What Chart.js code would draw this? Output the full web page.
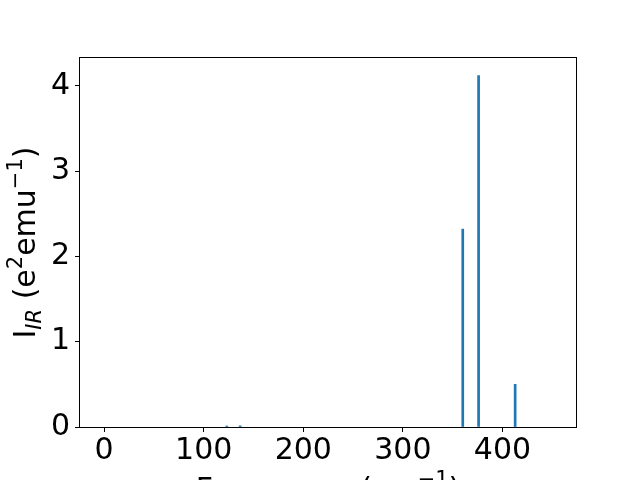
<!DOCTYPE html>
<html>
<head>
<meta charset="utf-8">
<script src="https://cdn.jsdelivr.net/npm/chart.js@4/dist/chart.umd.min.js"></script>
<style>
  html, body { margin: 0; padding: 0; background: #fff; }
  #wrap { width: 640px; height: 480px; position: relative; }
</style>
</head>
<body>
<div id="wrap"><canvas id="c" width="640" height="480"></canvas></div>
<script>
// ---- data ----
const frequencies = [123.2, 136.6, 360.1, 376.0, 412.7];
const intensities = [0.012, 0.014, 2.32, 4.12, 0.50];
const xTickValues = [0, 100, 200, 300, 400];
const yTickValues = [0, 1, 2, 3, 4];
const xLimits = [-24.2, 473.8];
const yLimits = [0, 4.326];

const FONT = "DejaVu Sans";
const BASE = 30;

function drawRich(ctx, segs, cx, baseY) {
  // segs: [text, size, style, shift]
  let total = 0;
  const widths = segs.map(s => {
    ctx.font = (s[2] || '') + ' ' + s[1] + 'px "' + FONT + '"';
    const w = ctx.measureText(s[0]).width;
    total += w;
    return w;
  });
  let x = cx - total / 2;
  ctx.textAlign = 'left';
  ctx.textBaseline = 'alphabetic';
  ctx.fillStyle = '#000';
  segs.forEach((s, i) => {
    ctx.font = (s[2] || '') + ' ' + s[1] + 'px "' + FONT + '"';
    ctx.fillText(s[0], x, baseY + (s[3] || 0));
    x += widths[i];
  });
}

const framePlugin = {
  id: 'frame',
  afterDraw(chart) {
    const ctx = chart.ctx;
    const a = chart.chartArea;
    ctx.save();
    ctx.strokeStyle = '#000';
    ctx.lineWidth = 1;
    ctx.strokeRect(Math.round(a.left) - 0.5, Math.round(a.top) - 0.5,
                   Math.round(a.right - a.left) + 1, Math.round(a.bottom - a.top) + 1);
    // y title (rotated)
    ctx.save();
    ctx.translate(34.5, (a.top + a.bottom) / 2);
    ctx.rotate(-Math.PI / 2);
    drawRich(ctx, [
      ['I', BASE, '', 0],
      ['IR', 21, 'italic', 6],
      [' (e', BASE, '', 0],
      ['2', 21, '', -13],
      ['emu', BASE, '', 0],
      ['\u22121', 21, '', -13],
      [')', BASE, '', 0]
    ], 0, 0);
    ctx.restore();
    // x title (partly cut off at bottom)
    drawRich(ctx, [
      ['Frequency (cm', BASE, '', 0],
      ['\u22121', 21, '', -13],
      [')', BASE, '', 0]
    ], (a.left + a.right) / 2, 499);
    ctx.restore();
  }
};

Chart.defaults.font.family = FONT;
Chart.defaults.color = '#000';

new Chart(document.getElementById('c'), {
  type: 'bar',
  data: {
    datasets: [{
      data: frequencies.map((f, i) => ({ x: f, y: intensities[i] })),
      backgroundColor: '#1f77b4',
      borderWidth: 0,
      barThickness: 2
    }]
  },
  options: {
    responsive: false,
    animation: false,
    devicePixelRatio: 1,
    layout: { padding: { left: 0, top: 58, right: 64, bottom: 0 } },
    plugins: { legend: { display: false }, title: { display: false }, tooltip: { enabled: false } },
    scales: {
      x: {
        type: 'linear',
        offset: false,
        min: xLimits[0],
        max: xLimits[1],
        afterBuildTicks: s => { s.ticks = xTickValues.map(v => ({ value: v })); },
        afterFit: s => { s.height = 53; },
        grid: { display: true, offset: false, drawOnChartArea: false, drawTicks: true, tickLength: 5, tickColor: '#000', tickWidth: 1 },
        border: { display: false },
        ticks: { font: { size: BASE, family: FONT }, color: '#000', padding: 1, maxRotation: 0, autoSkip: false }
      },
      y: {
        type: 'linear',
        min: yLimits[0],
        max: yLimits[1],
        afterBuildTicks: s => { s.ticks = yTickValues.map(v => ({ value: v })); },
        afterFit: s => { s.width = 80; },
        grid: { display: true, offset: false, drawOnChartArea: false, drawTicks: true, tickLength: 5, tickColor: '#000', tickWidth: 1 },
        border: { display: false },
        ticks: { font: { size: BASE, family: FONT }, color: '#000', padding: 5, autoSkip: false }
      }
    }
  },
  plugins: [framePlugin]
});
</script>
</body>
</html>
